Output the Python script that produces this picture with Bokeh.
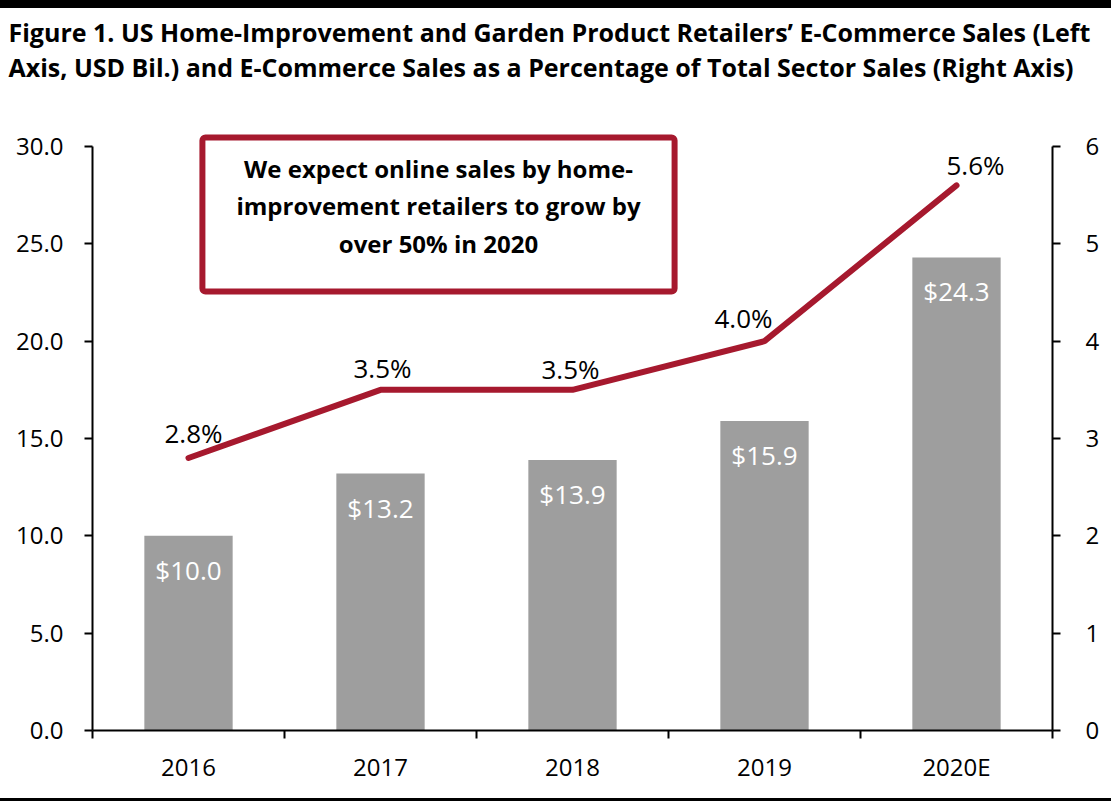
from bokeh.plotting import figure
from bokeh.layouts import column
from bokeh.models import (Range1d, LinearAxis, FixedTicker, Label, Div, Title,
                          LabelSet, ColumnDataSource, NumeralTickFormatter)
from bokeh.core.properties import value
from bokeh.embed import file_html
from bokeh.resources import INLINE

# ---------------- data ----------------
categories = ["2016", "2017", "2018", "2019", "2020E"]
sales_bn = [10.0, 13.2, 13.9, 15.9, 24.3]          # left axis, USD bil.
ecom_share = [2.8, 3.5, 3.5, 4.0, 5.6]              # right axis, %
left_ticks = [0, 5, 10, 15, 20, 25, 30]
right_ticks = [0, 1, 2, 3, 4, 5, 6]
title_lines = [
    "Figure 1. US Home-Improvement and Garden Product Retailers\u2019 E-Commerce Sales (Left",
    "Axis, USD Bil.) and E-Commerce Sales as a Percentage of Total Sector Sales (Right Axis)",
]
callout_lines = [
    "We expect online sales by home-",
    "improvement retailers to grow by",
    "over 50% in 2020",
]

# ---------------- style / layout ----------------
FONT = "Open Sans"
RED = "#A6192E"
GREY = "#9E9E9E"
PAGE_W = 1111
TOP_BAND, BOTTOM_BAND = 8, 3
W, H = PAGE_W, 790                 # figure sits below the top band
ML, MR, MT, MB = 92, 59, 124, 68
Y_MAX, P_MAX = 30, 6
AXIS_TOP_PAGE = 146                # page y of the 30.0 / 6 ticks

share_dx = [5, 2, -2, -21, 19]
share_dy = [25, 22, 21, 23, 20]

n = len(categories)
xs = [i + 0.5 for i in range(n)]
frame_w = W - ML - MR
frame_h = H - MT - MB
frame_bottom_page = TOP_BAND + H - MB
px_per_unit = (frame_bottom_page - AXIS_TOP_PAGE) / Y_MAX
y_view = frame_h / px_per_unit          # frame extends a little above 30
p_view = y_view * P_MAX / Y_MAX


def px_x(px):
    return (px - ML) * n / frame_w


def px_y(py):
    return (frame_bottom_page - py) / px_per_unit


src = ColumnDataSource(dict(
    x=xs, sales=sales_bn, share=ecom_share,
    sales_label=[f"${v:.1f}" for v in sales_bn],
    share_label=[f"{v:.1f}%" for v in ecom_share],
    dx=share_dx, dy=share_dy,
))

p = figure(width=W, height=H, output_backend="svg", toolbar_location=None,
           x_range=Range1d(0, n), y_range=Range1d(0, y_view),
           x_axis_location=None, y_axis_location=None, title_location=None,
           min_border_left=ML, min_border_right=MR,
           min_border_top=MT, min_border_bottom=MB)
p.extra_y_ranges = {"pct": Range1d(0, p_view)}
p.xgrid.visible = False
p.ygrid.visible = False
p.outline_line_color = None
p.background_fill_color = "white"
p.border_fill_color = "white"

# title: a spacer panel next to the frame, then the two-line title above it
p.add_layout(Title(text=" ", text_font_size="1px", standoff=45), "above")
p.add_layout(Title(text="\n".join(title_lines), text_font=FONT, text_font_style="bold",
                   text_font_size="25px", text_color="black", align="left",
                   offset=-84, standoff=0, text_line_height=1.05), "above")


def style_axis(ax, size="24px"):
    ax.axis_line_color = "black"
    ax.axis_line_width = 2
    ax.major_tick_line_color = "black"
    ax.major_tick_line_width = 2
    ax.major_tick_in = 0
    ax.major_tick_out = 8
    ax.minor_tick_in = 0
    ax.minor_tick_out = 0
    ax.major_label_text_font = FONT
    ax.major_label_text_font_size = size
    ax.major_label_text_color = "black"


yl = LinearAxis(ticker=FixedTicker(ticks=left_ticks), bounds=(0, Y_MAX),
                formatter=NumeralTickFormatter(format="0.0"))
style_axis(yl)
yl.major_label_standoff = 21
p.add_layout(yl, "left")

yr = LinearAxis(y_range_name="pct", ticker=FixedTicker(ticks=right_ticks), bounds=(0, P_MAX))
style_axis(yr)
yr.major_label_standoff = 25
p.add_layout(yr, "right")

xa = LinearAxis(ticker=FixedTicker(ticks=xs, minor_ticks=list(range(n + 1))),
                major_label_overrides={x: c for x, c in zip(xs, categories)})
style_axis(xa, "24px")
xa.major_tick_out = 0
xa.minor_tick_out = 8
xa.minor_tick_line_color = "black"
xa.minor_tick_line_width = 2
xa.major_label_standoff = 11
p.add_layout(xa, "below")

# bars and line
p.vbar(x="x", top="sales", width=0.46, source=src, fill_color=GREY, line_color=None)
p.line(x="x", y="share", source=src, y_range_name="pct", line_color=RED,
       line_width=6, line_cap="round", line_join="round")

p.add_layout(LabelSet(x="x", y="sales", text="sales_label", source=src,
                      y_offset=-34, text_align="center", text_baseline="middle",
                      text_color="white", text_font=value(FONT), text_font_size="26px"))
p.add_layout(LabelSet(x="x", y="share", text="share_label", source=src,
                      y_range_name="pct", x_offset="dx", y_offset="dy",
                      text_align="center", text_baseline="middle",
                      text_color="black", text_font=value(FONT), text_font_size="26px"))

# call-out box (padding: left, right, top, bottom)
p.add_layout(Label(x=px_x(438), y=px_y(214), text="\n".join(callout_lines),
                   text_align="center", text_baseline="middle",
                   text_font=FONT, text_font_style="bold", text_font_size="24px",
                   text_color="black", text_line_height=1.15,
                   background_fill_color="white", background_fill_alpha=1,
                   border_line_color=RED, border_line_width=6, border_radius=3,
                   padding=(34, 34, 14, 31)))

# black bands of the original image
top_band = Div(text="", width=PAGE_W, height=TOP_BAND, margin=0,
               styles={"background-color": "black"})
bottom_band = Div(text="", width=PAGE_W, height=BOTTOM_BAND, margin=0,
                  styles={"background-color": "black"})
layout = column(top_band, p, bottom_band, spacing=0)

open("out.html", "w").write(file_html(layout, INLINE))
